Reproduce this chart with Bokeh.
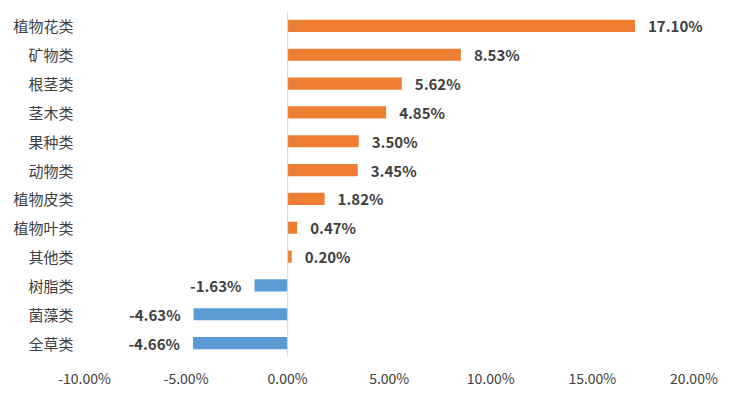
from bokeh.plotting import figure
from bokeh.models import FactorRange, Span, FixedTicker, ColumnDataSource
from bokeh.core.properties import value
from bokeh.embed import file_html
from bokeh.resources import INLINE

categories = ["植物花类", "矿物类", "根茎类", "茎木类", "果种类", "动物类",
              "植物皮类", "植物叶类", "其他类", "树脂类", "菌藻类", "全草类"]
values = [17.10, 8.53, 5.62, 4.85, 3.50, 3.45, 1.82, 0.47, 0.20, -1.63, -4.63, -4.66]
x_ticks = [-10, -5, 0, 5, 10, 15, 20]

ORANGE = "#ED7D31"
BLUE = "#5B9BD5"
TXT = "#404040"
FONT = "Noto Sans CJK SC"

colors = [ORANGE if v >= 0 else BLUE for v in values]
labels = [f"{v:.2f}%" for v in values]
pos_idx = [i for i, v in enumerate(values) if v >= 0]
neg_idx = [i for i, v in enumerate(values) if v < 0]

src = ColumnDataSource(dict(cat=categories, val=values, color=colors, label=labels))
src_pos = ColumnDataSource(dict(cat=[categories[i] for i in pos_idx],
                                val=[values[i] for i in pos_idx],
                                label=[labels[i] for i in pos_idx]))
src_neg = ColumnDataSource(dict(cat=[categories[i] for i in neg_idx],
                                val=[values[i] for i in neg_idx],
                                label=[labels[i] for i in neg_idx]))

p = figure(width=736, height=390, output_backend="svg", toolbar_location=None,
           y_range=FactorRange(factors=list(reversed(categories)), range_padding=0),
           x_range=(-10, 22),
           min_border_left=84, min_border_right=2, min_border_top=11, min_border_bottom=33)
p.outline_line_color = None
p.grid.grid_line_color = None
p.background_fill_color = "white"
p.border_fill_color = "white"

p.hbar(y="cat", right="val", left=0, height=0.42, color="color", source=src, line_color=None)

p.add_layout(Span(location=0, dimension="height", line_color="#D9D9D9", line_width=1))

p.text(x="val", y="cat", text="label", source=src_pos, x_offset=13,
       text_align="left", text_baseline="middle", text_font=value(FONT),
       text_font_size="15px", text_font_style="bold", text_color=TXT)
p.text(x="val", y="cat", text="label", source=src_neg, x_offset=-13,
       text_align="right", text_baseline="middle", text_font=value(FONT),
       text_font_size="15px", text_font_style="bold", text_color=TXT)

p.xaxis.ticker = FixedTicker(ticks=x_ticks)
p.xaxis.major_label_overrides = {t: f"{t:.2f}%" for t in x_ticks}
p.xaxis.axis_line_color = None
p.xaxis.major_tick_line_color = None
p.xaxis.minor_tick_line_color = None
p.xaxis.major_tick_out = 0
p.xaxis.major_tick_in = 0
p.xaxis.major_label_standoff = 10
p.xaxis.major_label_text_font = FONT
p.xaxis.major_label_text_font_size = "14px"
p.xaxis.major_label_text_color = TXT

p.yaxis.axis_line_color = None
p.yaxis.major_tick_line_color = None
p.yaxis.minor_tick_line_color = None
p.yaxis.major_tick_out = 0
p.yaxis.major_tick_in = 0
p.yaxis.major_label_standoff = 11
p.yaxis.major_label_text_font = FONT
p.yaxis.major_label_text_font_size = "15px"
p.yaxis.major_label_text_color = TXT

open("out.html", "w").write(file_html(p, INLINE))
